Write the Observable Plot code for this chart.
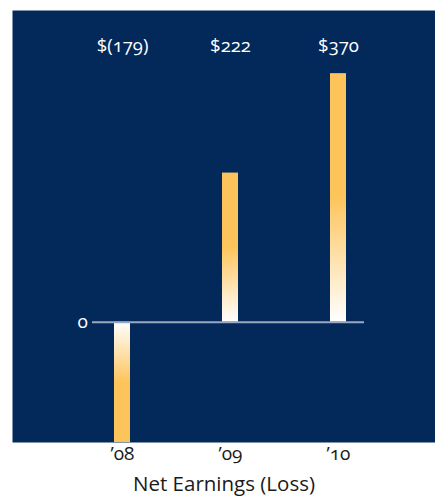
<!DOCTYPE html>
<html><head><meta charset="utf-8">
<script src="https://cdn.jsdelivr.net/npm/d3@7"></script>
<script src="https://cdn.jsdelivr.net/npm/@observablehq/plot@0.6"></script>
<style>
body{margin:0;background:#fff;}
#chart svg{font-family:"Open Sans",Lato,sans-serif;font-variant-numeric:oldstyle-nums;font-feature-settings:"onum" 1;}
</style></head>
<body><div id="chart"></div>
<script>
const years = ["’08", "’09", "’10"];
const values = [-179, 222, 370];
const valueLabels = ["$(179)", "$222", "$370"];
const yTicks = [0];
const title = "Net Earnings (Loss)";

const navy = "#02295a";
const orange = "#fec45c";
const data = years.map((y, i) => ({year: y, value: values[i], label: valueLabels[i]}));

function defs() {
  const ns = "http://www.w3.org/2000/svg";
  const d = document.createElementNS(ns, "defs");
  const mk = (id, y1, y2) => {
    const g = document.createElementNS(ns, "linearGradient");
    g.setAttribute("id", id);
    g.setAttribute("x1", "0"); g.setAttribute("x2", "0");
    g.setAttribute("y1", y1); g.setAttribute("y2", y2);
    [[0, "#ffffff"], [0.5, orange], [1, orange]].forEach(([o, c]) => {
      const s = document.createElementNS(ns, "stop");
      s.setAttribute("offset", o); s.setAttribute("stop-color", c);
      g.appendChild(s);
    });
    d.appendChild(g);
  };
  mk("gradUp", "1", "0");
  mk("gradDown", "0", "1");
  return d;
}

const chart = Plot.plot({
  width: 435,
  height: 503,
  marginLeft: 12,
  marginRight: 0,
  marginTop: 10,
  marginBottom: 61,
  style: {background: "#fff", color: "#1a1a1a", fontSize: "18px"},
  x: {domain: years, range: [68, 392], padding: 0, axis: null},
  y: {domain: [-179, 464], axis: null},
  marks: [
    defs,
    Plot.frame({fill: navy, stroke: null}),
    Plot.barY(data.filter(d => d.value >= 0), {x: "year", y: "value", fill: "url(#gradUp)", insetLeft: 46, insetRight: 46}),
    Plot.barY(data.filter(d => d.value < 0), {x: "year", y: "value", fill: "url(#gradDown)", insetLeft: 46, insetRight: 46}),
    Plot.ruleY(yTicks, {stroke: "#9aa9c2", strokeWidth: 1.8, insetLeft: 80, insetRight: 71}),
    Plot.text(yTicks, {y: d => d, text: d => String(d), frameAnchor: "left", dx: 65, fill: "#fff", fontSize: 19}),
    Plot.text(data, {x: "year", text: "label", frameAnchor: "top", dy: 28, fill: "#fff", fontSize: 18.5}),
    Plot.text(data, {x: "year", text: "year", frameAnchor: "bottom", dy: 17, fill: "#1a1a1a", fontSize: 19}),
    Plot.text([title], {text: d => d, frameAnchor: "bottom", dy: 48, fill: "#1a1a1a", fontSize: 20.5})
  ]
});
document.getElementById("chart").appendChild(chart);
</script></body></html>
